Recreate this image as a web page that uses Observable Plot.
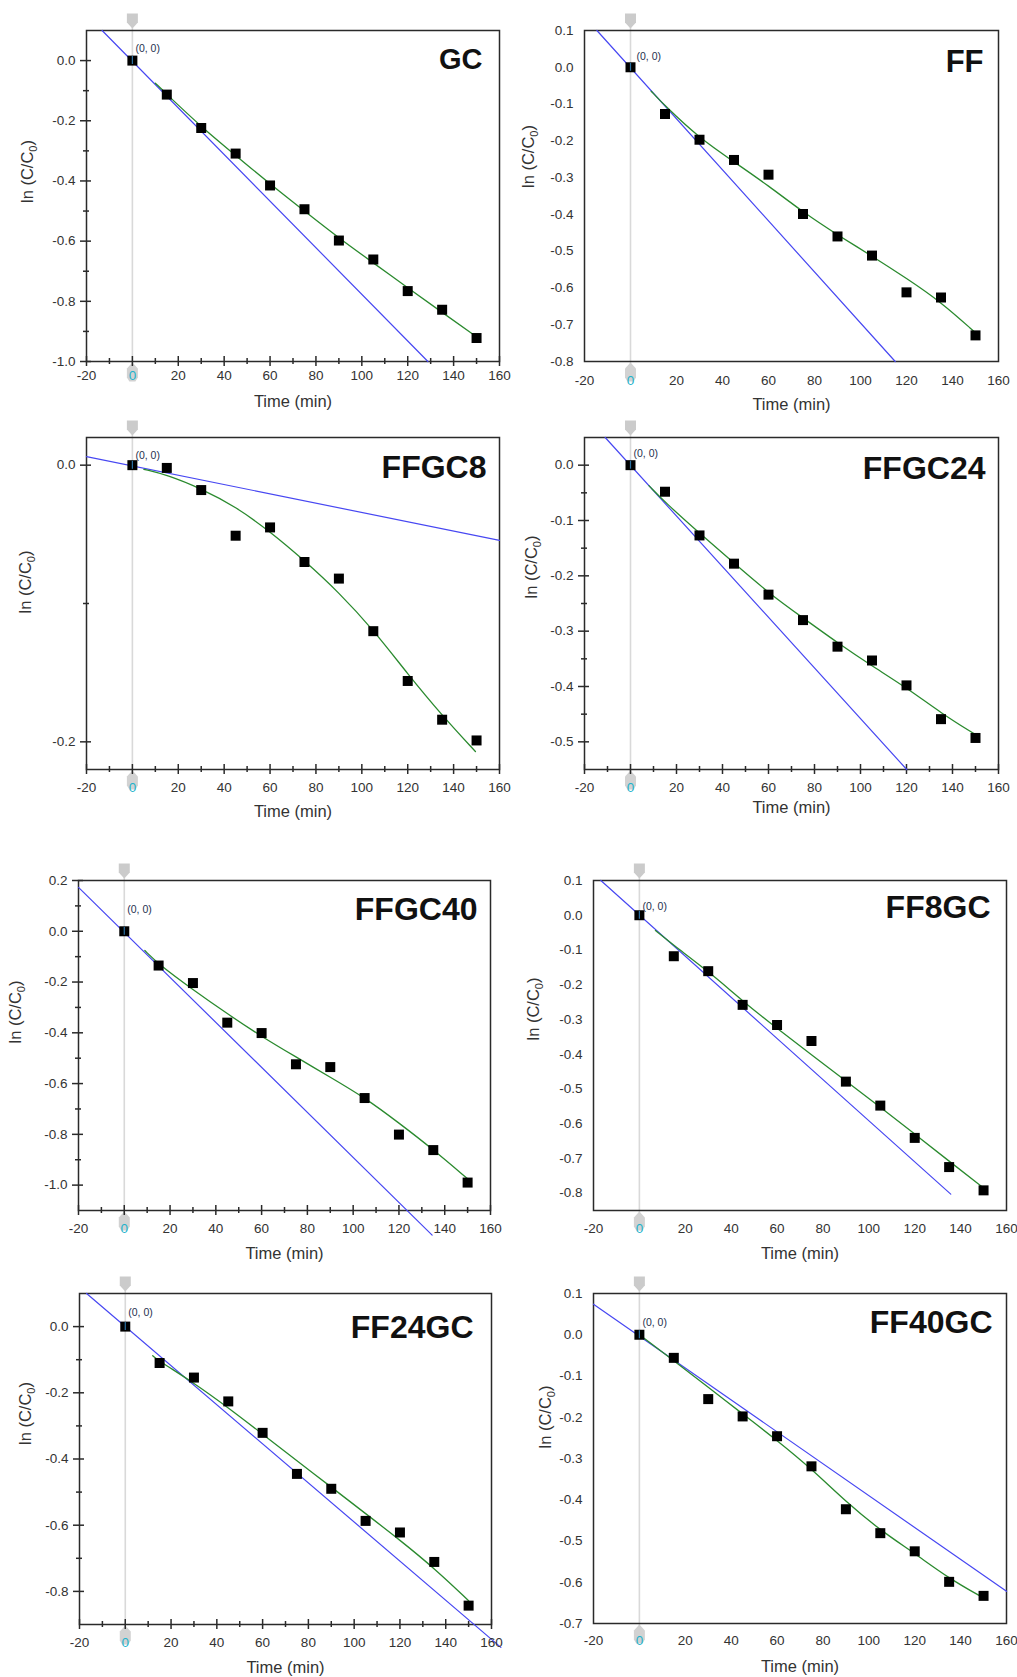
<!DOCTYPE html>
<html>
<head>
<meta charset="utf-8">
<script src="https://cdn.jsdelivr.net/npm/d3@7"></script>
<script src="https://cdn.jsdelivr.net/npm/@observablehq/plot@0.6"></script>
<style>
html, body { margin: 0; padding: 0; background: #fff; overflow: hidden; }
#root { position: relative; width: 1017px; height: 1677px; }
#root svg { position: absolute; overflow: visible; }
</style>
</head>
<body>
<div id="root"></div>
<script>
// ---------- data ----------
const panelNames = ["GC", "FF", "FFGC8", "FFGC24", "FFGC40", "FF8GC", "FF24GC", "FF40GC"];
const time = [0, 15, 30, 45, 60, 75, 90, 105, 120, 135, 150];

// measured ln(C/C0)
const lnC_GC     = [0, -0.113, -0.224, -0.309, -0.415, -0.494, -0.598, -0.661, -0.766, -0.828, -0.922];
const lnC_FF     = [0, -0.127, -0.197, -0.252, -0.292, -0.399, -0.460, -0.512, -0.612, -0.626, -0.729];
const lnC_FFGC8  = [0, -0.002, -0.018, -0.051, -0.045, -0.070, -0.082, -0.120, -0.156, -0.184, -0.199];
const lnC_FFGC24 = [0, -0.048, -0.127, -0.178, -0.234, -0.280, -0.328, -0.353, -0.398, -0.459, -0.493];
const lnC_FFGC40 = [0, -0.135, -0.204, -0.360, -0.401, -0.524, -0.535, -0.657, -0.801, -0.862, -0.990];
const lnC_FF8GC  = [0, -0.118, -0.161, -0.258, -0.316, -0.362, -0.479, -0.548, -0.641, -0.725, -0.792];
const lnC_FF24GC = [0, -0.110, -0.154, -0.226, -0.321, -0.445, -0.490, -0.587, -0.622, -0.711, -0.843];
const lnC_FF40GC = [0, -0.056, -0.156, -0.198, -0.246, -0.319, -0.423, -0.481, -0.525, -0.599, -0.633];

// green fitted curves (time, value)
const greenT_GC     = [10, 15, 30, 45, 60, 75, 90, 105, 120, 135, 150];
const greenY_GC     = [-0.075, -0.112, -0.220, -0.315, -0.410, -0.500, -0.590, -0.672, -0.755, -0.837, -0.918];
const greenT_FF     = [9, 15, 30, 45, 60, 75, 90, 105, 120, 135, 150];
const greenY_FF     = [-0.065, -0.105, -0.193, -0.257, -0.322, -0.394, -0.456, -0.513, -0.574, -0.638, -0.722];
const greenT_FFGC8  = [5, 15, 30, 45, 60, 75, 90, 105, 120, 135, 149.5];
const greenY_FFGC8  = [-0.003, -0.007, -0.017, -0.030, -0.048, -0.069, -0.092, -0.119, -0.151, -0.181, -0.207];
const greenT_FFGC24 = [8, 15, 30, 45, 60, 75, 90, 105, 120, 135, 150];
const greenY_FFGC24 = [-0.037, -0.067, -0.123, -0.177, -0.231, -0.276, -0.321, -0.363, -0.402, -0.448, -0.487];
const greenT_FFGC40 = [9, 15, 30, 45, 60, 75, 90, 105, 120, 135, 150];
const greenY_FFGC40 = [-0.076, -0.130, -0.230, -0.325, -0.415, -0.495, -0.575, -0.655, -0.755, -0.860, -0.975];
const greenT_FF8GC  = [7, 15, 30, 45, 60, 75, 90, 105, 120, 135, 150];
const greenY_FF8GC  = [-0.044, -0.087, -0.161, -0.247, -0.326, -0.402, -0.477, -0.552, -0.630, -0.708, -0.785];
const greenT_FF24GC = [12, 15, 30, 45, 60, 75, 90, 105, 120, 135, 150];
const greenY_FF24GC = [-0.088, -0.105, -0.170, -0.245, -0.325, -0.405, -0.485, -0.565, -0.645, -0.730, -0.828];
const greenT_FF40GC = [0, 15, 30, 45, 60, 75, 90, 105, 120, 135, 149];
const greenY_FF40GC = [0, -0.063, -0.127, -0.192, -0.256, -0.325, -0.405, -0.474, -0.530, -0.591, -0.635];

// blue straight lines (end points)
const blueT_GC     = [-13.2, 128.8];  const blueY_GC     = [0.1, -1.0];
const blueT_FF     = [-14.6, 115.1];  const blueY_FF     = [0.1, -0.8];
const blueT_FFGC8  = [-20, 160];      const blueY_FFGC8  = [0.0062, -0.0544];
const blueT_FFGC24 = [-11.0, 120.1];  const blueY_FFGC24 = [0.05, -0.55];
const blueT_FFGC40 = [-20, 134.5];    const blueY_FFGC40 = [0.173, -1.197];
const blueT_FF8GC  = [-16.8, 135.7];  const blueY_FF8GC  = [0.1, -0.803];
const blueT_FF24GC = [-16.9, 164.1];  const blueY_FF24GC = [0.1, -0.969];
const blueT_FF40GC = [-20, 160];      const blueY_FF40GC = [0.074, -0.622];

// axes
const xDomain = [-20, 160];
const xLabelTicks = [-20, 20, 40, 60, 80, 100, 120, 140, 160];
const xMajorTicks = [-20, 0, 20, 40, 60, 80, 100, 120, 140, 160];
const xMinorTicks = [-10, 10, 30, 50, 70, 90, 110, 130, 150];
const yDomains = [[-1.0, 0.1], [-0.8, 0.1], [-0.22, 0.02], [-0.55, 0.05], [-1.1, 0.2], [-0.85, 0.1], [-0.9, 0.1], [-0.7, 0.1]];
const yLabelTicks = [
  [0, -0.2, -0.4, -0.6, -0.8, -1.0],
  [0.1, 0, -0.1, -0.2, -0.3, -0.4, -0.5, -0.6, -0.7, -0.8],
  [0, -0.2],
  [0, -0.1, -0.2, -0.3, -0.4, -0.5],
  [0.2, 0, -0.2, -0.4, -0.6, -0.8, -1.0],
  [0.1, 0, -0.1, -0.2, -0.3, -0.4, -0.5, -0.6, -0.7, -0.8],
  [0, -0.2, -0.4, -0.6, -0.8],
  [0.1, 0, -0.1, -0.2, -0.3, -0.4, -0.5, -0.6, -0.7]
];
const yMinorTicks = [
  [-0.1, -0.3, -0.5, -0.7, -0.9],
  [],
  [-0.1],
  [-0.05, -0.15, -0.25, -0.35, -0.45],
  [0.1, -0.1, -0.3, -0.5, -0.7, -0.9],
  [],
  [-0.1, -0.3, -0.5, -0.7],
  []
];
const hasTicks = [true, false, true, true, true, false, true, false];
const xTitle = "Time (min)";
const yTitle = "ln (C/C0)";
const originLabel = "(0, 0)";

// ---------- layout (page positions of each frame) ----------
const layout = [
  {left: 86,  top: 30,   right: 499,  bottom: 361,  xPad: 8.5,  xlabDy: 40,   ylabDx: -59, ylabDy: 7,   titleDx: -17, titleDy: 18, titleSize: 29, ooDx: 3, ooDy: -12},
  {left: 584, top: 30,   right: 998,  bottom: 361,  xPad: 13.6, xlabDy: 43,   ylabDx: -56, ylabDy: -8,  titleDx: -15, titleDy: 19, titleSize: 31, ooDx: 6, ooDy: -11},
  {left: 86,  top: 437,  right: 499,  bottom: 769,  xPad: 13,   xlabDy: 42.7, ylabDx: -61, ylabDy: 10,  titleDx: -13, titleDy: 18, titleSize: 32, ooDx: 3, ooDy: -10},
  {left: 584, top: 437,  right: 998,  bottom: 769,  xPad: 13.3, xlabDy: 38,   ylabDx: -53, ylabDy: -5,  titleDx: -13, titleDy: 19, titleSize: 32, ooDx: 3, ooDy: -12},
  {left: 78,  top: 880,  right: 490,  bottom: 1210, xPad: 13.3, xlabDy: 43,   ylabDx: -63, ylabDy: -2,  titleDx: -13, titleDy: 17, titleSize: 32, ooDx: 3, ooDy: -22},
  {left: 593, top: 880,  right: 1006, bottom: 1210, xPad: 13.3, xlabDy: 43,   ylabDx: -60, ylabDy: -5,  titleDx: -16, titleDy: 15, titleSize: 32, ooDx: 3, ooDy: -9},
  {left: 79,  top: 1293, right: 491,  bottom: 1624, xPad: 13,   xlabDy: 43,   ylabDx: -54, ylabDy: -14, titleDx: -18, titleDy: 22, titleSize: 32, ooDx: 3, ooDy: -14},
  {left: 593, top: 1293, right: 1006, bottom: 1623, xPad: 12,   xlabDy: 43,   ylabDx: -48, ylabDy: -10, titleDx: -14, titleDy: 17, titleSize: 32, ooDx: 3, ooDy: -12}
];

const lnCs   = [lnC_GC, lnC_FF, lnC_FFGC8, lnC_FFGC24, lnC_FFGC40, lnC_FF8GC, lnC_FF24GC, lnC_FF40GC];
const greenTs = [greenT_GC, greenT_FF, greenT_FFGC8, greenT_FFGC24, greenT_FFGC40, greenT_FF8GC, greenT_FF24GC, greenT_FF40GC];
const greenYs = [greenY_GC, greenY_FF, greenY_FFGC8, greenY_FFGC24, greenY_FFGC40, greenY_FF8GC, greenY_FF24GC, greenY_FF40GC];
const blueTs = [blueT_GC, blueT_FF, blueT_FFGC8, blueT_FFGC24, blueT_FFGC40, blueT_FF8GC, blueT_FF24GC, blueT_FF40GC];
const blueYs = [blueY_GC, blueY_FF, blueY_FFGC8, blueY_FFGC24, blueY_FFGC40, blueY_FF8GC, blueY_FF24GC, blueY_FF40GC];

// cursor marker shapes (Origin data-reader)
const cursorDown = {draw(ctx) {
  ctx.moveTo(-5.5, -16); ctx.lineTo(5.5, -16); ctx.lineTo(5.5, -7);
  ctx.lineTo(0, -1); ctx.lineTo(-5.5, -7); ctx.closePath();
}};
const cursorUp = {draw(ctx) {
  ctx.moveTo(0, 1); ctx.lineTo(5.5, 7); ctx.lineTo(5.5, 16);
  ctx.lineTo(3, 20); ctx.lineTo(-3, 20); ctx.lineTo(-5.5, 16); ctx.lineTo(-5.5, 7); ctx.closePath();
}};

const FONT = "'Liberation Sans', Arial, Helvetica, sans-serif";
const AXIS = "#2a2a2a";
const TXT = "#333";
const BLUE = "#4747f2";
const GREEN = "#2a8a2e";
const CYAN = "#1fb3cc";
const TICKFS = 13.5;

const root = document.getElementById("root");
const ML = 75, MT = 40, MR = 12, MB = 60;

panelNames.forEach((name, i) => {
  const L = layout[i];
  const [y0, y1] = yDomains[i];
  const pts = time.map((t, j) => ({t, v: lnCs[i][j]}));
  const green = greenTs[i].map((t, j) => ({t, v: greenYs[i][j]}));
  const blue = blueTs[i].map((t, j) => ({t, v: blueYs[i][j]}));
  const fmt = d => (Math.abs(d) < 1e-9 ? "0.0" : d.toFixed(1));

  const marks = [
    // cursor line and markers
    Plot.ruleX([0], {x: d => d, stroke: "#d9d9d9", strokeWidth: 1.6, insetTop: -14, insetBottom: -16}),
    Plot.dot([{t: 0, v: y1}], {x: "t", y: "v", symbol: cursorDown, r: 5, fill: "#cbcbcb", dy: -1}),
    Plot.dot([{t: 0, v: y0}], {x: "t", y: "v", symbol: cursorUp, r: 5, fill: "#d2d2d2"}),
    Plot.frame({stroke: AXIS, strokeWidth: 1.5})
  ];
  if (hasTicks[i]) {
    marks.push(
      Plot.ruleX(xMajorTicks, {x: d => d, y1: () => y0, y2: () => y0, insetTop: -5, insetBottom: -5, stroke: AXIS, strokeWidth: 1.5}),
      Plot.ruleX(xMinorTicks, {x: d => d, y1: () => y0, y2: () => y0, insetTop: -3, insetBottom: -3, stroke: AXIS, strokeWidth: 1.5}),
      Plot.ruleY(yLabelTicks[i], {y: d => d, x1: () => xDomain[0], x2: () => xDomain[0], insetLeft: -6, insetRight: -5, stroke: AXIS, strokeWidth: 1.5}),
      Plot.ruleY(yMinorTicks[i], {y: d => d, x1: () => xDomain[0], x2: () => xDomain[0], insetLeft: -3, insetRight: -3, stroke: AXIS, strokeWidth: 1.5})
    );
  }
  marks.push(
    Plot.line(blue, {x: "t", y: "v", stroke: BLUE, strokeWidth: 1.2}),
    Plot.line(green, {x: "t", y: "v", stroke: GREEN, strokeWidth: 1.3, curve: "basis"}),
    Plot.dot(pts, {x: "t", y: "v", symbol: "square", r: 5.64, fill: "#000"}),
    Plot.ruleX([0], {x: d => d, y1: () => 0, y2: () => 0, insetTop: -4, insetBottom: -4, stroke: "#2a6fa0", strokeWidth: 1.2}),
    Plot.text([originLabel], {x: () => 0, y: () => 0, text: d => d, dx: L.ooDx, dy: L.ooDy, textAnchor: "start",
      fontSize: 10.5, fill: "#26304f"}),
    Plot.axisX({ticks: xLabelTicks, tickSize: 0, tickPadding: L.xPad, tickFormat: d => String(d), fontSize: TICKFS, fill: TXT, label: null}),
    Plot.text(["0"], {x: () => 0, y: () => y0, text: d => d, dy: L.xPad, lineAnchor: "top", fontSize: TICKFS, fill: CYAN}),
    Plot.axisY({ticks: yLabelTicks[i], tickSize: 0, tickPadding: 11, tickFormat: fmt, fontSize: TICKFS, fill: TXT, label: null}),
    Plot.text([name], {frameAnchor: "top-right", text: d => d, dx: L.titleDx, dy: L.titleDy, textAnchor: "end", lineAnchor: "top",
      fontSize: L.titleSize, fontWeight: "bold", fill: "#111"}),
    Plot.text([xTitle], {frameAnchor: "bottom", text: d => d, dy: L.xlabDy, lineAnchor: "middle", fontSize: 16.5, fill: TXT}),
    Plot.text([yTitle], {frameAnchor: "left", text: d => d, dx: L.ylabDx, dy: L.ylabDy, rotate: -90, lineAnchor: "middle",
      fontSize: 16.5, fill: TXT})
  );

  const svg = Plot.plot({
    width: L.right - L.left + ML + MR,
    height: L.bottom - L.top + MT + MB,
    marginLeft: ML, marginRight: MR, marginTop: MT, marginBottom: MB,
    x: {domain: xDomain},
    y: {domain: [y0, y1]},
    style: {fontFamily: FONT, background: "transparent", overflow: "visible"},
    marks
  });
  svg.style.left = (L.left - ML) + "px";
  svg.style.top = (L.top - MT) + "px";
  svg.style.maxWidth = "none";

  // subscript 0 in the y-axis title
  svg.querySelectorAll("text").forEach(t => {
    if (t.textContent === yTitle) {
      t.textContent = "";
      const ns = "http://www.w3.org/2000/svg";
      const a = document.createElementNS(ns, "tspan"); a.textContent = "ln (C/C";
      const b = document.createElementNS(ns, "tspan"); b.textContent = "0";
      b.setAttribute("dy", "4"); b.setAttribute("font-size", "11");
      const c = document.createElementNS(ns, "tspan"); c.textContent = ")"; c.setAttribute("dy", "-4");
      t.append(a, b, c);
    }
  });
  root.appendChild(svg);
});
</script>
</body>
</html>
